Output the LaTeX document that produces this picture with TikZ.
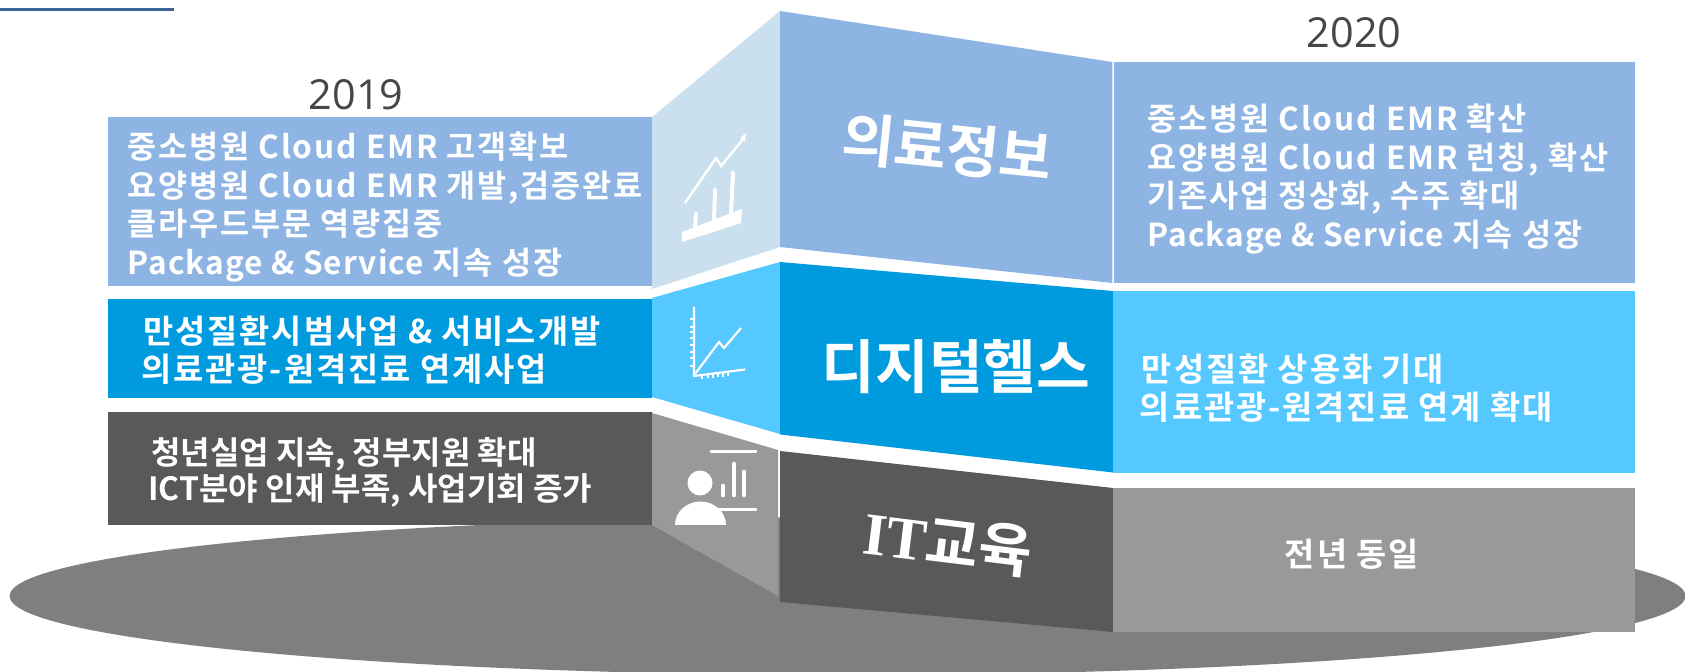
\documentclass[tikz,border=0pt]{standalone}
\usepackage{fontspec}
\setmainfont{Noto Sans CJK KR}[BoldFont=* Bold]
\newfontfamily\lightf{Open Sans}
\newfontfamily\slabf{Liberation Serif}
\definecolor{lblue}{HTML}{8EB4E3}
\definecolor{pale}{HTML}{CBE0EE}
\definecolor{cyanb}{HTML}{55C8FF}
\definecolor{deepb}{HTML}{009ADF}
\definecolor{dgray}{HTML}{595959}
\definecolor{mgray}{HTML}{999999}
\definecolor{egray}{HTML}{7F7F7F}
\definecolor{ruleb}{HTML}{3A6496}
\newcommand{\tightlat}[1]{{\addfontfeature{LetterSpace=3.5}#1}}
\tikzset{
 x=0.5pt,y=-0.5pt,
 txt/.style={text=white,font=\bfseries\fontsize{15.8}{19.35}\selectfont\addfontfeature{LetterSpace=6},align=left,anchor=west,inner sep=0pt},
 txtb/.style={text=white,font=\bfseries\fontsize{16.4}{18.8}\selectfont\addfontfeature{LetterSpace=6},align=left,anchor=west,inner sep=0pt},
 txtc/.style={text=white,font=\bfseries\fontsize{16}{18.3}\selectfont,align=left,anchor=west,inner sep=0pt},
 mid/.style={text=white,font=\bfseries\fontsize{28.6}{32}\selectfont,inner sep=0pt},
 yr/.style={text=black!72,font=\lightf\fontsize{20.7}{24}\selectfont,inner sep=0pt},
 icon/.style={white,line width=1.1pt},
}
\begin{document}
\begin{tikzpicture}
\useasboundingbox (0,0) rectangle (1685,672);
\fill[white] (0,0) rectangle (1685,672);
\draw[ruleb,line width=1.5pt] (0,10) -- (174,10);
% ellipse
\begin{scope}
\clip (0,0) rectangle (1685,672);
\fill[egray] (847.5,596) ellipse [x radius=838,y radius=79];
\end{scope}
% left boxes
\fill[lblue] (108,117) rectangle (652,286);
\fill[deepb] (108,299) rectangle (652,398);
\fill[dgray] (108,412) rectangle (652,525);
% side panels
\fill[pale] (652,117) -- (780,11) -- (780,247) -- (652,289) -- cycle;
\fill[cyanb] (652,298) -- (780,262) -- (780,434) -- (652,397) -- cycle;
\fill[mgray] (652,413) -- (778,450) -- (778,596) -- (652,525) -- cycle;
% middle
\fill[lblue] (780,11) -- (1112.3,62) -- (1112.3,283) -- (780,247) -- cycle;
\fill[deepb] (780,262) -- (1113,291) -- (1113,472.5) -- (780,434.5) -- cycle;
\fill[dgray] (780,451) -- (1113,488) -- (1113,632) -- (780,602) -- cycle;
% right
\fill[lblue] (1113.6,62) rectangle (1635,283);
\fill[cyanb] (1113,291) rectangle (1635,473);
\fill[mgray] (1113,488) rectangle (1635,632);
% icon 1
\fill[white] (682,232) -- (742,209) -- (741,223) -- (682,242) -- cycle;
\draw[icon,line width=1.2pt] (685,203) -- (716,158) -- (721,166) -- (744,138);
\fill[white] (746,133) -- (745,142) -- (740,138) -- cycle;
\draw[icon,line cap=round,line width=2pt] (695,227) -- (696,214);
\draw[icon,line cap=round,line width=2pt] (714,220) -- (715,190);
\draw[icon,line cap=round,line width=2pt] (731,214) -- (733,173);
% icon 2
\draw[icon] (694,307) -- (694,376) -- (745,369.5);
\draw[icon] (695,374) -- (719,342) -- (724,348) -- (741,328);
\foreach \ty in {319,327,332,338,345,352,358,366}
  \draw[white,line width=0.8pt] (690,\ty) -- (694,\ty);
\foreach \tx/\ty in {702/375,708/374.5,713/374,718/373.5,723/373,728/372}
  \draw[white,line width=0.7pt] (\tx,\ty) -- (\tx,\ty+4);
% icon 3
\draw[icon,line width=1.3pt,line cap=round] (711,451.7) -- (756,451.7);
\draw[icon,line width=1.3pt,line cap=round] (718,509.7) -- (756,509.7);
\fill[white] (700,483) circle [radius=12.5];
\fill[white] (675,525) arc (180:360:25.5 and 23.5) -- cycle;
\draw[icon,line width=2.3pt,line cap=round] (723,486) -- (723,495);
\draw[icon,line width=2.3pt,line cap=round] (734,464) -- (734,495);
\draw[icon,line width=2.3pt,line cap=round] (744,472) -- (744,495);
% left texts
\node[txt] (l1) at (127,207) {중소병원 Cloud EMR 고객확보\\요양병원 Cloud EMR 개발,검증완료\\클라우드부문 역량집중\\\tightlat{Package \& Service} 지속 성장};
\node[txtb] (l2) at (141,350) {\hspace*{1pt}만성질환시범사업 \& 서비스개발\\의료관광-원격진료 연계사업};
\node[txtc] (l3) at (148,472.5) {\hspace*{1.5pt}청년실업 지속, 정부지원 확대\\ICT분야 인재 부족, 사업기회 증가};
% right texts
\node[txt] (r1) at (1147,179) {중소병원 Cloud EMR 확산\\요양병원 Cloud EMR 런칭, 확산\\기존사업 정상화, 수주 확대\\\tightlat{Package \& Service} 지속 성장};
\node[txtb] (r2) at (1139.5,388) {\hspace*{1pt}만성질환 상용화 기대\\의료관광-원격진료 연계 확대};
\node[txtb,anchor=center] (r3) at (1352,554) {전년 동일};
% mid titles
\node[mid,rotate=-6] (m1) at (947,148) {의료정보};
\node[mid,font=\bfseries\fontsize{29.2}{32}\selectfont] (m2) at (956,367) {디지털헬스};
\node[mid,rotate=-7,font=\bfseries\fontsize{29}{32}\selectfont] (m3) at (948,543) {{\slabf\bfseries\fontsize{30}{32}\selectfont IT}교육};
% years
\node[yr] (y1) at (356,95) {2019};
\node[yr] (y2) at (1354,33) {2020};
\end{tikzpicture}
\end{document}
